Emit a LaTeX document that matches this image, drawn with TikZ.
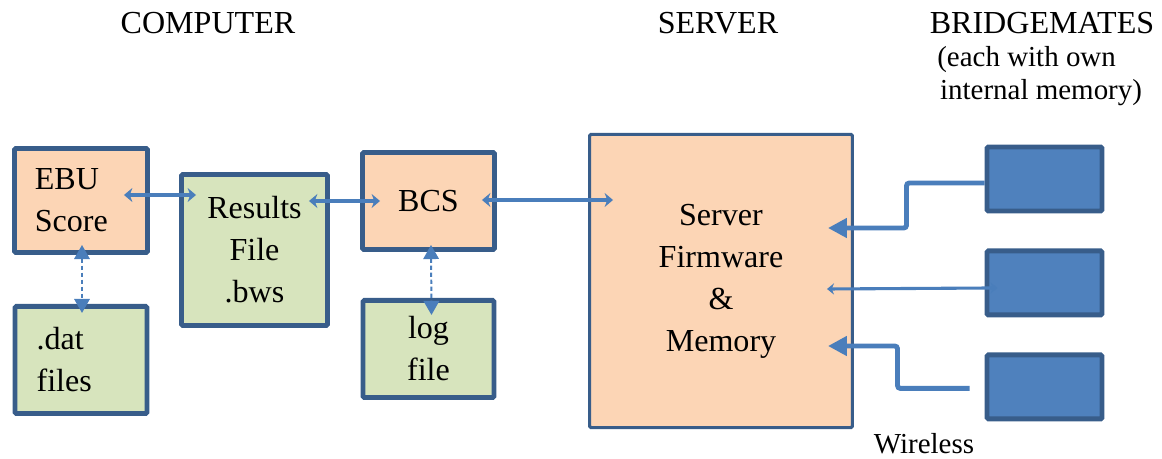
\documentclass[tikz,border=0pt]{standalone}
\usepackage{fontspec}
\setmainfont{Liberation Serif}
\usepackage{tikz}
\usetikzlibrary{arrows.meta,positioning,calc}
\definecolor{peach}{HTML}{FCD5B5}
\definecolor{leaf}{HTML}{D7E4BD}
\definecolor{unitblue}{HTML}{4F81BD}
\definecolor{rimblue}{HTML}{385D8A}
\definecolor{linkblue}{HTML}{4A7EBB}
\newcommand{\boxfont}{\fontsize{22.8}{29.8}\selectfont}
\newcommand{\notefont}{\fontsize{20.6}{23.4}\selectfont}
\tikzstyle{prog}=[draw=rimblue, fill=peach, line width=3.5pt, rounded corners=1pt, font=\boxfont, align=center, inner sep=0pt]
\tikzstyle{data}=[prog, fill=leaf]
\tikzstyle{unit}=[draw=rimblue, fill=unitblue, line width=3.5pt, rounded corners=1pt, minimum width=2.875cm, minimum height=1.6cm]
\tikzstyle{caption}=[inner sep=0pt]
\tikzstyle{link}=[{Stealth[length=6pt,width=10pt]}-{Stealth[length=6pt,width=10pt]}, draw=linkblue, line width=2.8pt]
\tikzstyle{thinlink}=[{Stealth[length=5pt,width=8pt]}-{Stealth[length=5pt,width=8pt]}, draw=linkblue, line width=2.2pt]
\tikzstyle{dlink}=[{Triangle[length=10pt,width=11pt]}-{Triangle[length=10pt,width=11pt]}, draw=linkblue, line width=1.4pt, dash pattern=on 3pt off 2pt]
\tikzstyle{wire}=[-{Triangle[length=13.5pt,width=13.5pt]}, draw=linkblue, line width=3.5pt, rounded corners=2pt]
\begin{document}
\begin{tikzpicture}[x=0.025cm, y=-0.025cm]
  \useasboundingbox (0,0) rectangle (1162,459);
%
  \node[caption, font=\boxfont] (computer) at (208,23) {COMPUTER};
  \node[caption, font=\boxfont] (srv) at (718,23) {SERVER};
  \node[caption, font=\boxfont] (bridge) at (1042,23) {BRIDGEMATES};
  \node[caption, font=\notefont, align=left, anchor=west] (own) at (937,76) {(each with own\\\hspace*{2pt}internal memory)};
  \node[caption, font=\notefont] (wireless) at (924,444) {Wireless};
%
  \node[prog, minimum width=3.325cm, minimum height=2.6cm, text width=2.305cm, align=left, inner xsep=0.51cm] (ebu) at (81,200.5) {EBU\\Score};
  \node[data, minimum width=3.3cm, minimum height=2.675cm, text width=2.22cm, align=left, inner xsep=0.54cm] (dat) [below=1.225cm of ebu] {.dat\\files};
  \node[data, minimum width=3.65cm, minimum height=3.775cm] (results) at (254.5,250) {Results\\File\\.bws};
  \node[prog, minimum width=3.3cm, minimum height=2.425cm] (bcs) at (428.5,201) {BCS};
  \node[data, minimum width=3.275cm, minimum height=2.425cm] (log) [below=1.15cm of bcs] {log\\file};
%
  \node[prog, line width=2.2pt, minimum width=6.57cm, minimum height=7.33cm] (server) at (721,281) {Server\\Firmware\\\&\\Memory};
%
  \node[unit] (bm1) at (1044.5,179) {};
  \node[unit] (bm2) [below=0.875cm of bm1] {};
  \node[unit] (bm3) [below=0.875cm of bm2] {};
%
  \path
  ($(ebu.east)+(-26,-5.5)$) edge[link] ($(results.west)+(17,-55)$)
  ($(results.east)+(-21,-49)$) edge[link] ($(bcs.west)+(20,0)$)
  ($(bcs.east)+(-15,-1)$) edge[link] ($(server.west)+(25,-81)$)
  ($(ebu.south)+(1,-10)$) edge[dlink] ($(dat.north)+(1,9)$)
  ($(bcs.south)+(2.5,-7)$) edge[dlink] ($(log.north)+(3,17)$)
  ($(server.east)+(-27,8)$) edge[thinlink] ($(bm2.west)+(13,5)$);
%
  \draw[wire] ($(bm1.west)+(0,4)$) -- ++(-78,0) |- ($(server.east)+(-26,-53)$);
  \draw[wire] ($(bm3.west)+(-15,1.5)$) -- ++(-72,0) |- ($(server.east)+(-26,65)$);
\end{tikzpicture}
\end{document}
